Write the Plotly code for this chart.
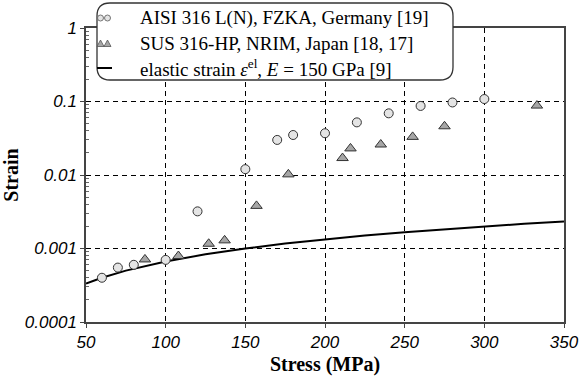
import plotly.graph_objects as go

# ---- data ----
aisi_stress = [60, 70, 80, 100, 120, 150, 170, 180, 200, 220, 240, 260, 280, 300]
aisi_strain = [0.0004, 0.00055, 0.0006, 0.0007, 0.0032, 0.012, 0.030, 0.035,
               0.037, 0.052, 0.069, 0.087, 0.097, 0.108]

sus_stress = [87, 108, 127, 137, 157, 177, 211, 216, 235, 255, 275, 333]
sus_strain = [0.00071, 0.00079, 0.00116, 0.00129, 0.0038, 0.0102, 0.017, 0.023,
              0.026, 0.033, 0.046, 0.088]

el_stress = [50, 60, 75, 100, 125, 150, 175, 200, 225, 250, 275, 300, 325, 350]
el_strain = [0.000333, 0.0004, 0.0005, 0.000667, 0.000833, 0.001, 0.00117, 0.00133,
             0.0015, 0.00167, 0.00183, 0.002, 0.00217, 0.00233]

x_ticks = [50, 100, 150, 200, 250, 300, 350]
x_ticktext = ["50", "100", "150", "200", "250", "300", "350"]
y_ticks = [0.0001, 0.001, 0.01, 0.1, 1]
y_ticktext = ["0.0001", "0.001", "0.01", "0.1", "1"]
y_minor = [m * d for d in [0.0001, 0.001, 0.01, 0.1] for m in range(2, 10)]

names = ["AISI 316 L(N), FZKA, Germany [19]",
         "SUS 316-HP, NRIM, Japan [18, 17]",
         "elastic strain <i>ε</i><sup>el</sup>, <i>E</i> = 150 GPa [9]"]

W, H = 581, 382
L, R, T, B = 86, 17, 28, 60
PW, PH = W - L - R, H - T - B


def X(px):
    return (px - L) / PW


def Y(py):
    return (H - B - py) / PH


CIRC_FILL, TRI_FILL, EDGE = "#e4e4e4", "#a6a6a6", "#333333"

fig = go.Figure()
fig.add_trace(go.Scatter(
    x=el_stress, y=el_strain, mode="lines", name=names[2],
    line=dict(color="black", width=2), showlegend=False))
fig.add_trace(go.Scatter(
    x=aisi_stress, y=aisi_strain, mode="markers", name=names[0],
    marker=dict(symbol="circle", size=9, color=CIRC_FILL,
                line=dict(color=EDGE, width=1)), showlegend=False))
fig.add_trace(go.Scatter(
    x=sus_stress, y=sus_strain, mode="markers", name=names[1],
    marker=dict(symbol="triangle-up", size=10, color=TRI_FILL,
                line=dict(color=EDGE, width=1)), showlegend=False))

# ---- rounded legend box ----
x0, x1, y0, y1, r = 97, 453, 3, 80, 13
path = (f"M {X(x0+r)},{Y(y0)} L {X(x1-r)},{Y(y0)} Q {X(x1)},{Y(y0)} {X(x1)},{Y(y0+r)} "
        f"L {X(x1)},{Y(y1-r)} Q {X(x1)},{Y(y1)} {X(x1-r)},{Y(y1)} "
        f"L {X(x0+r)},{Y(y1)} Q {X(x0)},{Y(y1)} {X(x0)},{Y(y1-r)} "
        f"L {X(x0)},{Y(y0+r)} Q {X(x0)},{Y(y0)} {X(x0+r)},{Y(y0)} Z")
fig.add_shape(type="path", path=path, xref="paper", yref="paper",
              fillcolor="white", line=dict(color="#333333", width=1.3), layer="above")

# legend keys
row_y = [18, 43.5, 68]
for cx in (100.5, 107.5):
    fig.add_shape(type="circle", xref="paper", yref="paper",
                  xsizemode="pixel", ysizemode="pixel",
                  xanchor=X(cx), yanchor=Y(row_y[0]),
                  x0=-3, x1=3, y0=-3, y1=3,
                  fillcolor=CIRC_FILL, line=dict(color="#555555", width=0.8), layer="above")
    fig.add_shape(type="path", xref="paper", yref="paper",
                  xsizemode="pixel", ysizemode="pixel",
                  xanchor=X(cx), yanchor=Y(row_y[1]),
                  path="M -3.5,-3 L 3.5,-3 L 0,3.5 Z",
                  fillcolor=TRI_FILL, line=dict(color="#555555", width=0.8), layer="above")
fig.add_shape(type="line", xref="paper", yref="paper",
              x0=X(97), x1=X(112), y0=Y(row_y[2]), y1=Y(row_y[2]),
              line=dict(color="black", width=2), layer="above")

legfont = dict(family="Liberation Serif, Times New Roman", size=19, color="black")
for txt, ry in zip(names, row_y):
    fig.add_annotation(x=X(138), y=Y(ry), xref="paper", yref="paper",
                       xanchor="left", yanchor="middle", text=txt, showarrow=False,
                       font=legfont)

tickfont = dict(family="Liberation Sans, Arial", size=17, color="black")
titlefont = dict(family="Liberation Serif, Times New Roman", size=20, color="black", weight="bold")

fig.update_layout(
    width=W, height=H,
    margin=dict(l=L, r=R, t=T, b=B, autoexpand=False),
    paper_bgcolor="white", plot_bgcolor="white",
    showlegend=False,
    xaxis=dict(range=[50, 350], tickvals=x_ticks,
               ticktext=[f"<i>{t}</i>" for t in x_ticktext],
               ticks="outside", ticklen=4,
               tickcolor="#444", tickfont=tickfont,
               showline=True, linecolor="#444", linewidth=1.5, mirror=True,
               showgrid=True, gridcolor="black", gridwidth=1, griddash="5px,4px",
               zeroline=False,
               title=dict(text="Stress (MPa)", font=titlefont, standoff=6)),
    yaxis=dict(type="log", range=[-4, 0], tickvals=y_ticks,
               ticktext=[f"<i>{t}</i>" for t in y_ticktext],
               ticks="outside", ticklen=4, tickcolor="#444", tickfont=tickfont,
               showline=True, linecolor="#444", linewidth=1.5, mirror=True,
               showgrid=True, gridcolor="black", gridwidth=1, griddash="5px,4px",
               zeroline=False,
               minor=dict(tickvals=y_minor, ticks="inside", ticklen=3,
                          tickcolor="#666", showgrid=False),
               title=dict(text="Strain", font=titlefont, standoff=8)),
)

fig.write_html("out.html")
